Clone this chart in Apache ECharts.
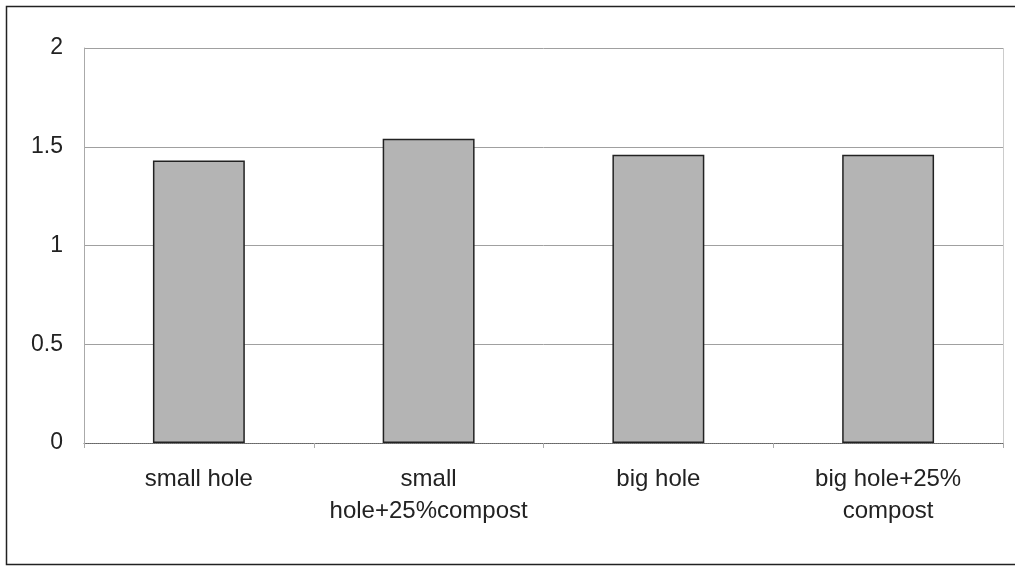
<!DOCTYPE html>
<html><head><meta charset="utf-8">
<script src="https://cdn.jsdelivr.net/npm/echarts@6/dist/echarts.min.js"></script>
<style>html,body{margin:0;padding:0;background:#fff}#c{width:1015px;height:566px}</style>
</head><body><div id="c"></div>
<script>
const categories = ['small hole', 'small\nhole+25%compost', 'big hole', 'big hole+25%\ncompost'];
const values = [1.43, 1.54, 1.46, 1.46];
const yTicks = [0, 0.5, 1, 1.5, 2];

const chart = echarts.init(document.getElementById('c'));
chart.setOption({
  animation: false,
  backgroundColor: '#fff',
  grid: { left: 84, right: 12, top: 48, bottom: 123 },
  graphic: [
    { type: 'rect', shape: { x: 6.5, y: 6.5, width: 1020, height: 558 },
      style: { fill: 'none', stroke: '#222', lineWidth: 1.5 } },
    { type: 'line', shape: { x1: 1003.5, y1: 48, x2: 1003.5, y2: 443 },
      style: { stroke: '#ccc', lineWidth: 1 } }
  ],
  xAxis: {
    type: 'category', data: categories,
    axisLine: { lineStyle: { color: '#666', type: 'dotted' } },
    axisTick: { show: true, length: 5, lineStyle: { color: '#aaa' } },
    axisLabel: { interval: 0, hideOverlap: false, color: '#222', fontFamily: 'Liberation Sans',
      fontSize: 24, lineHeight: 32, margin: 20 }
  },
  yAxis: {
    type: 'value', min: 0, max: 2, interval: 0.5,
    axisLine: { show: true, lineStyle: { color: '#aaa' } },
    axisTick: { show: false },
    axisLabel: { color: '#222', fontFamily: 'Liberation Sans', fontSize: 23, margin: 21,
      formatter: v => yTicks.includes(v) ? String(v) : '' },
    splitLine: { lineStyle: { color: '#a0a0a0', width: 1 } }
  },
  series: [{
    type: 'bar', data: values, barWidth: '40%',
    itemStyle: { color: '#b4b4b4', borderColor: '#222', borderWidth: 1.5 }
  }]
});
</script></body></html>
